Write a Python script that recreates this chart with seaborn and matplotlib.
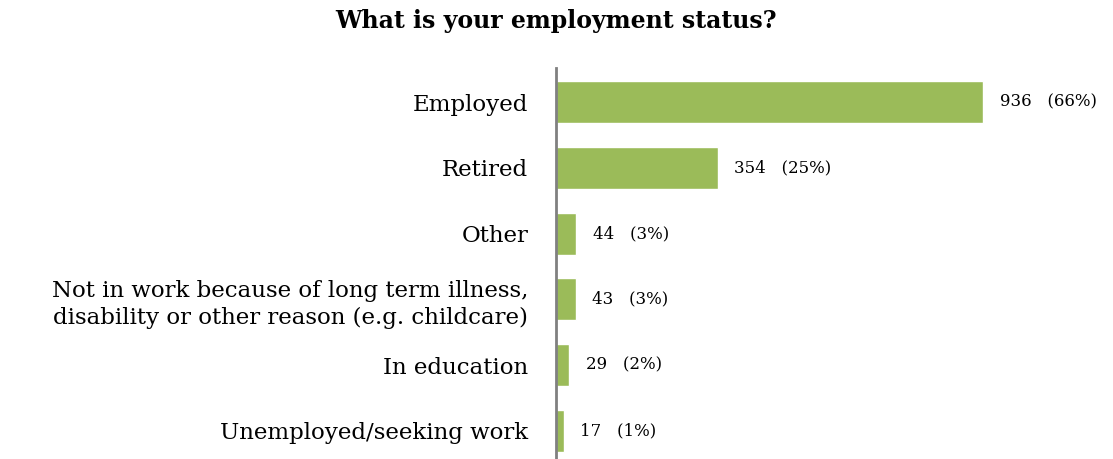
import seaborn as sns
import matplotlib.pyplot as plt
import pandas as pd

categories = ["Employed", "Retired", "Other",
              "Not in work because of long term illness,\ndisability or other reason (e.g. childcare)",
              "In education", "Unemployed/seeking work"]
counts = [936, 354, 44, 43, 29, 17]
percents = [66, 25, 3, 3, 2, 1]

df = pd.DataFrame({"status": categories, "count": counts})

sns.set_style("white")
plt.rcParams['font.family'] = ['DejaVu Serif']
plt.rcParams['text.color'] = 'black'
plt.rcParams['ytick.color'] = 'black'

fig = plt.figure(figsize=(11.13, 4.59), dpi=100)
ax = fig.add_axes([0.4996, 0.0, 0.48, 0.852])
sns.barplot(data=df, x="count", y="status", color="#9BBB59", saturation=1,
            width=0.64, ax=ax)

ax.set_xlim(0, 1171)
ax.set_ylim(5.43, -0.52)
for i, (c, p) in enumerate(zip(counts, percents)):
    ax.annotate(f"{c}   ({p}%)", (c, i), xytext=(12, 0), textcoords="offset points",
                va="center", ha="left", fontsize=12, color="black")

for s in ["top", "right", "bottom"]:
    ax.spines[s].set_visible(False)
ax.spines["left"].set_color("#808080")
ax.spines["left"].set_linewidth(2)
ax.set_xticks([])
ax.tick_params(axis="y", length=0, pad=20, labelsize=16.5, labelcolor="black")
ax.set_xlabel("")
ax.set_ylabel("")
for lbl in ax.get_yticklabels():
    lbl.set_multialignment("right")
    lbl.set_linespacing(1.3)

fig.text(0.5, 0.955, "What is your employment status?", ha="center", va="center",
         fontsize=17, fontweight="bold", color="black")

fig.savefig("out.png", dpi=100)
